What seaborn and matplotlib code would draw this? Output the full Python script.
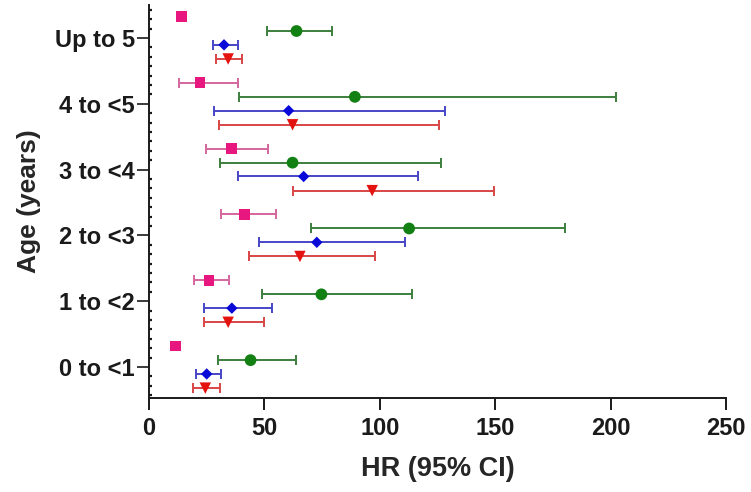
import numpy as np
import pandas as pd
import matplotlib
matplotlib.use("Agg")
import matplotlib.pyplot as plt
from matplotlib.ticker import MultipleLocator
import seaborn as sns

# ---- data ----
groups = ["0 to <1", "1 to <2", "2 to <3", "3 to <4", "4 to <5", "Up to 5"]
series = ["S1", "S2", "S3", "S4"]  # pink square, green circle, blue diamond, red triangle

s1_hr = [11.5, 26.0, 41.3, 35.8, 22.1, 14.2]
s1_lo = [11.5, 19.6, 31.0, 24.7, 12.8, 14.2]
s1_hi = [11.5, 34.6, 55.1, 51.7, 38.5, 14.2]

s2_hr = [44.0, 74.7, 112.7, 62.2, 89.2, 63.9]
s2_lo = [30.0, 48.9, 70.4, 30.7, 39.2, 51.2]
s2_hi = [63.9, 114.1, 180.1, 126.3, 202.2, 79.4]

s3_hr = [25.0, 35.9, 72.7, 67.0, 60.5, 32.5]
s3_lo = [20.2, 23.9, 47.5, 38.7, 28.3, 27.6]
s3_hi = [31.2, 53.5, 111.1, 116.7, 128.1, 38.4]

s4_hr = [24.4, 34.3, 65.4, 96.7, 62.2, 34.3]
s4_lo = [18.9, 23.8, 43.4, 62.5, 30.4, 29.1]
s4_hi = [30.7, 49.9, 98.0, 149.4, 125.7, 40.1]

xticks = [0, 50, 100, 150, 200, 250]

# ---- styling ----
offsets = {"S1": 0.32, "S2": 0.105, "S3": -0.105, "S4": -0.32}
markers = {"S1": "s", "S2": "o", "S3": "D", "S4": "v"}
msizes = {"S1": 62, "S2": 72, "S3": 34, "S4": 68}
mcolors = {"S1": "#E8177F", "S2": "#138013", "S3": "#0A0AD8", "S4": "#E4130F"}
lcolors = {"S1": "#D5669E", "S2": "#3C7E3C", "S3": "#4646C8", "S4": "#D84646"}

hr = {"S1": s1_hr, "S2": s2_hr, "S3": s3_hr, "S4": s4_hr}
lo = {"S1": s1_lo, "S2": s2_lo, "S3": s3_lo, "S4": s4_lo}
hi = {"S1": s1_hi, "S2": s2_hi, "S3": s3_hi, "S4": s4_hi}

rows = []
for s in series:
    for gi, g in enumerate(groups):
        rows.append({"series": s, "group": g, "y": gi + offsets[s],
                     "hr": hr[s][gi], "lo": lo[s][gi], "hi": hi[s][gi]})
df = pd.DataFrame(rows)

sns.set_theme(style="ticks")
plt.rcParams["font.family"] = ["Liberation Sans", "DejaVu Sans"]
plt.rcParams["font.weight"] = "bold"

fig = plt.figure(figsize=(7.51, 4.92), dpi=100)
ax = fig.add_axes([149 / 751, (492 - 398) / 492, (726 - 149) / 751, (398 - 5) / 492])

for s in series:
    d = df[df["series"] == s]
    has_ci = (d["hi"] - d["lo"]) > 0.01
    dd = d[has_ci]
    ax.errorbar(dd["hr"], dd["y"], xerr=[dd["hr"] - dd["lo"], dd["hi"] - dd["hr"]],
                fmt="none", ecolor=lcolors[s], elinewidth=1.4, capsize=3.8,
                capthick=1.4, zorder=2)

sns.scatterplot(data=df, x="hr", y="y", hue="series", style="series",
                markers=markers, palette=mcolors, size="series", sizes=msizes,
                edgecolor="none", linewidth=0, legend=False, ax=ax, zorder=3)

ax.set_xlim(0, 250)
ax.set_ylim(-0.47, 5.5)
ax.set_xticks(xticks)
ax.set_xticklabels([str(v) for v in xticks], fontsize=17, fontweight="bold")
ax.set_yticks(range(len(groups)))
ax.set_yticklabels(groups, fontsize=17, fontweight="bold")
ax.yaxis.set_minor_locator(MultipleLocator(1 / 7))

ax.set_xlabel("HR (95% CI)", fontsize=19.5, fontweight="bold", labelpad=12)
ax.set_ylabel("Age (years)", fontsize=19, fontweight="bold", labelpad=10)

for sp in ["top", "right"]:
    ax.spines[sp].set_visible(False)
for sp in ["left", "bottom"]:
    ax.spines[sp].set_linewidth(1.4)
    ax.spines[sp].set_color("#1a1a1a")

ax.tick_params(axis="x", direction="out", length=8.5, width=1.4, colors="#1a1a1a", pad=5)
ax.tick_params(axis="y", which="major", direction="out", length=9, width=1.2, colors="#1a1a1a", pad=1)
ax.tick_params(axis="y", which="minor", direction="in", length=2.5, width=1.6, colors="#1a1a1a")
ax.set_facecolor("white")
fig.patch.set_facecolor("white")

fig.savefig("out.png", dpi=100)
